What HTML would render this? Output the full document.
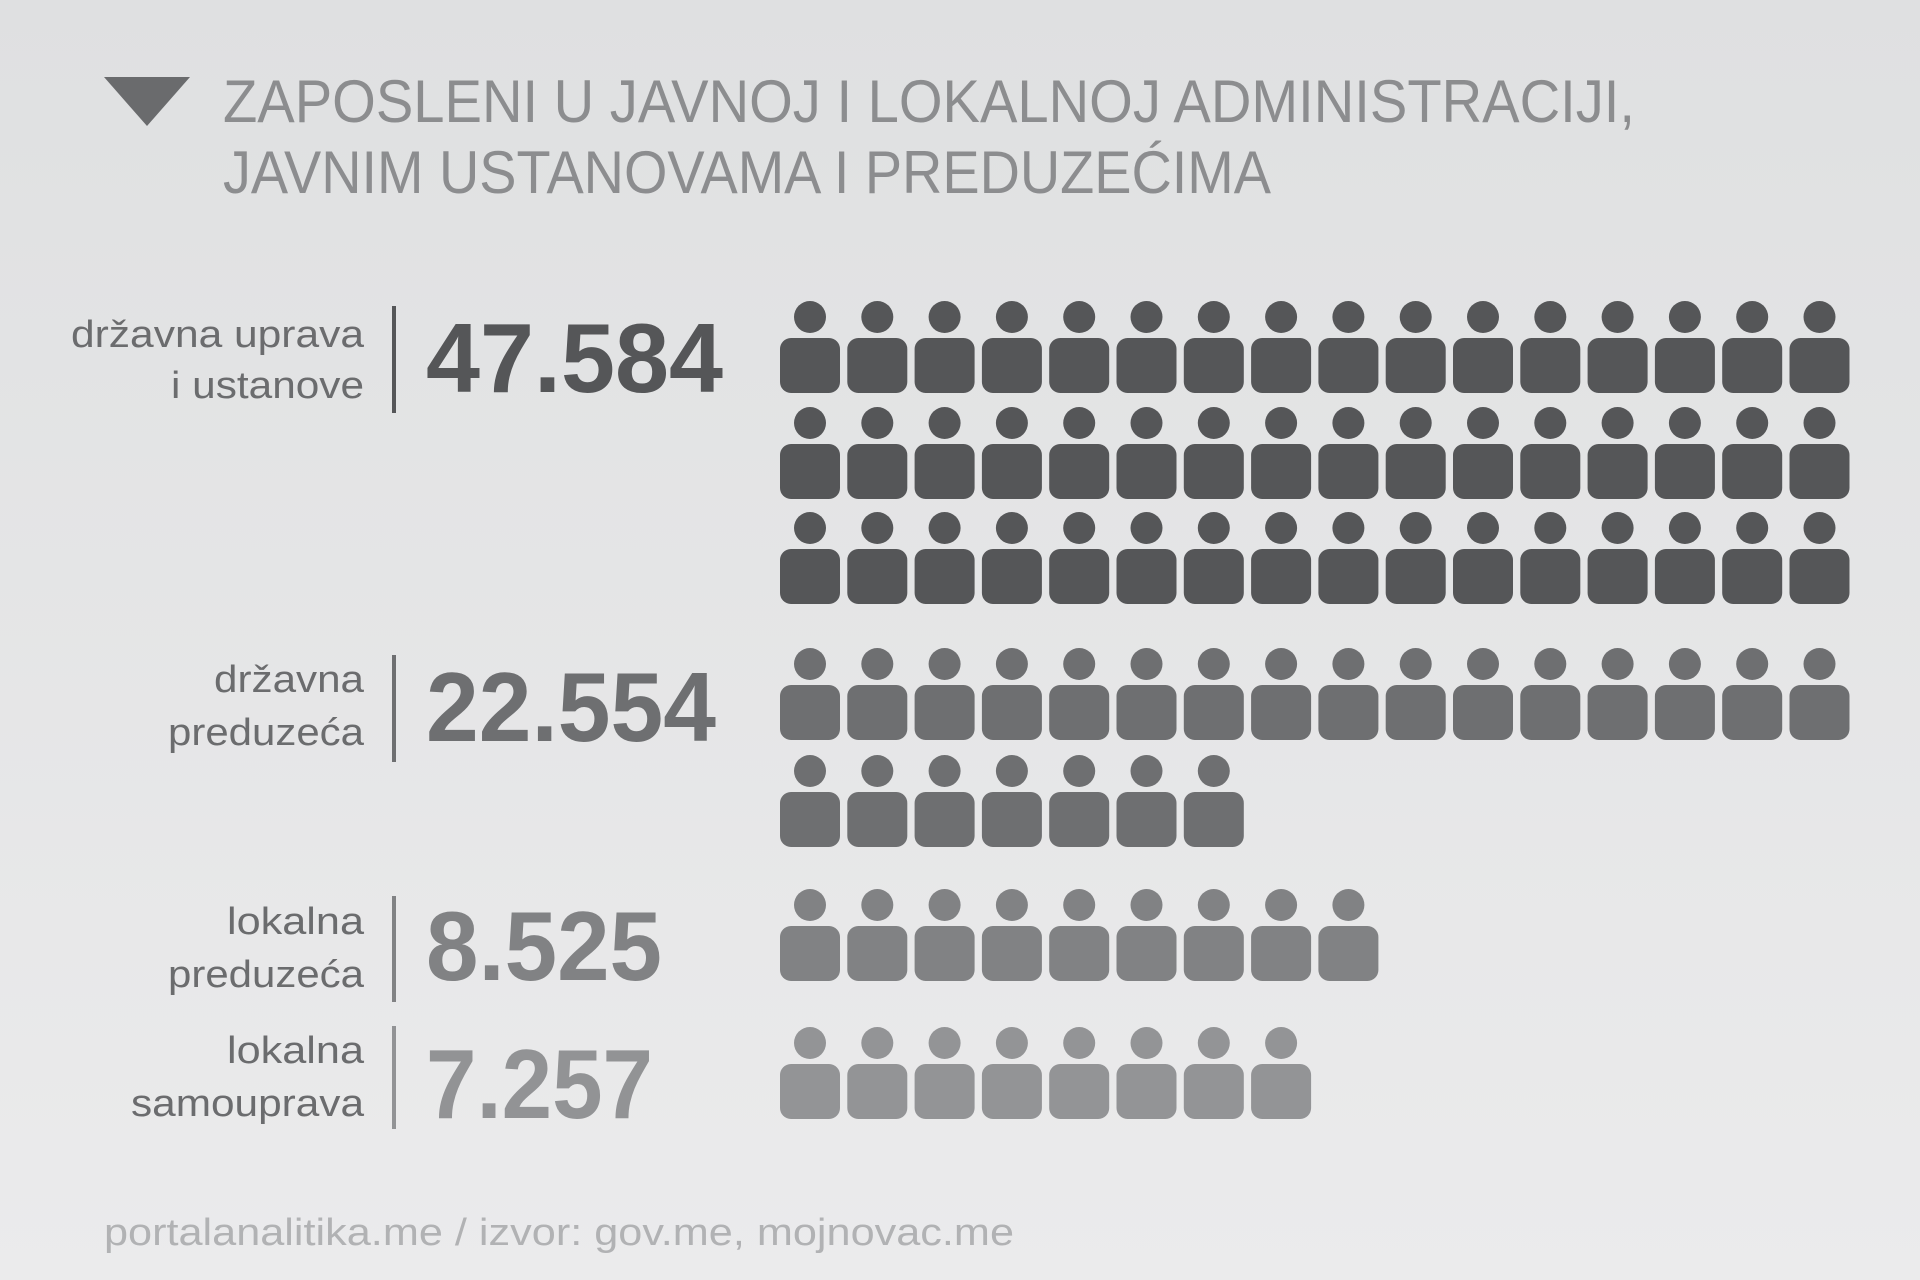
<!DOCTYPE html>
<html><head><meta charset="utf-8"><style>
html,body{margin:0;padding:0;}
body{width:1920px;height:1280px;overflow:hidden;}
svg{display:block;}
text{font-family:"Liberation Sans",sans-serif;}
</style></head><body>
<svg width="1920" height="1280" viewBox="0 0 1920 1280" xmlns="http://www.w3.org/2000/svg">
<defs>
<linearGradient id="bg" x1="0" y1="0" x2="0" y2="1">
<stop offset="0" stop-color="#dfe0e1"/><stop offset="1" stop-color="#ebebec"/>
</linearGradient>
<g id="p"><circle cx="30" cy="0" r="16"/><rect x="0" y="21" width="60" height="55" rx="11"/></g>
</defs>
<rect width="1920" height="1280" fill="url(#bg)"/>
<polygon points="104,77 190,77 147,126" fill="#6a6b6d"/>
<g fill="#8c8d8f" font-size="60">
<text x="223" y="122" textLength="1412" lengthAdjust="spacingAndGlyphs">ZAPOSLENI U JAVNOJ I LOKALNOJ ADMINISTRACIJI,</text>
<text x="223" y="193" textLength="1048" lengthAdjust="spacingAndGlyphs">JAVNIM USTANOVAMA I PREDUZEĆIMA</text>
</g>
<g fill="#6b6c6e" font-size="38" text-anchor="end">
<text x="364" y="347" textLength="293" lengthAdjust="spacingAndGlyphs">državna uprava</text>
<text x="364" y="398" textLength="193" lengthAdjust="spacingAndGlyphs">i ustanove</text>
<text x="364" y="692" textLength="150" lengthAdjust="spacingAndGlyphs">državna</text>
<text x="364" y="745" textLength="196" lengthAdjust="spacingAndGlyphs">preduzeća</text>
<text x="364" y="934" textLength="137" lengthAdjust="spacingAndGlyphs">lokalna</text>
<text x="364" y="987" textLength="196" lengthAdjust="spacingAndGlyphs">preduzeća</text>
<text x="364" y="1063" textLength="137" lengthAdjust="spacingAndGlyphs">lokalna</text>
<text x="364" y="1116" textLength="233" lengthAdjust="spacingAndGlyphs">samouprava</text>
</g>
<rect x="392" y="306" width="4" height="107" fill="#555658"/>
<rect x="392" y="655" width="4" height="107" fill="#6e6f71"/>
<rect x="392" y="896" width="4" height="106" fill="#818284"/>
<rect x="392" y="1026" width="4" height="103" fill="#929395"/>
<g font-size="98" font-weight="bold">
<text x="426" y="392" fill="#555658" textLength="297" lengthAdjust="spacingAndGlyphs">47.584</text>
<text x="426" y="741" fill="#6e6f71" textLength="290" lengthAdjust="spacingAndGlyphs">22.554</text>
<text x="426" y="980" fill="#818284" textLength="236" lengthAdjust="spacingAndGlyphs">8.525</text>
<text x="426" y="1118" fill="#929395" textLength="227" lengthAdjust="spacingAndGlyphs">7.257</text>
</g>
<g fill="#555658">
<g transform="translate(780,317)"><use href="#p"/><use href="#p" x="67.3"/><use href="#p" x="134.6"/><use href="#p" x="201.9"/><use href="#p" x="269.2"/><use href="#p" x="336.5"/><use href="#p" x="403.8"/><use href="#p" x="471.1"/><use href="#p" x="538.4"/><use href="#p" x="605.7"/><use href="#p" x="673"/><use href="#p" x="740.3"/><use href="#p" x="807.6"/><use href="#p" x="874.9"/><use href="#p" x="942.2"/><use href="#p" x="1009.5"/></g>
<g transform="translate(780,423)"><use href="#p"/><use href="#p" x="67.3"/><use href="#p" x="134.6"/><use href="#p" x="201.9"/><use href="#p" x="269.2"/><use href="#p" x="336.5"/><use href="#p" x="403.8"/><use href="#p" x="471.1"/><use href="#p" x="538.4"/><use href="#p" x="605.7"/><use href="#p" x="673"/><use href="#p" x="740.3"/><use href="#p" x="807.6"/><use href="#p" x="874.9"/><use href="#p" x="942.2"/><use href="#p" x="1009.5"/></g>
<g transform="translate(780,528)"><use href="#p"/><use href="#p" x="67.3"/><use href="#p" x="134.6"/><use href="#p" x="201.9"/><use href="#p" x="269.2"/><use href="#p" x="336.5"/><use href="#p" x="403.8"/><use href="#p" x="471.1"/><use href="#p" x="538.4"/><use href="#p" x="605.7"/><use href="#p" x="673"/><use href="#p" x="740.3"/><use href="#p" x="807.6"/><use href="#p" x="874.9"/><use href="#p" x="942.2"/><use href="#p" x="1009.5"/></g>
</g>
<g fill="#6e6f71">
<g transform="translate(780,664)"><use href="#p"/><use href="#p" x="67.3"/><use href="#p" x="134.6"/><use href="#p" x="201.9"/><use href="#p" x="269.2"/><use href="#p" x="336.5"/><use href="#p" x="403.8"/><use href="#p" x="471.1"/><use href="#p" x="538.4"/><use href="#p" x="605.7"/><use href="#p" x="673"/><use href="#p" x="740.3"/><use href="#p" x="807.6"/><use href="#p" x="874.9"/><use href="#p" x="942.2"/><use href="#p" x="1009.5"/></g>
<g transform="translate(780,771)"><use href="#p"/><use href="#p" x="67.3"/><use href="#p" x="134.6"/><use href="#p" x="201.9"/><use href="#p" x="269.2"/><use href="#p" x="336.5"/><use href="#p" x="403.8"/></g>
</g>
<g fill="#818284" transform="translate(780,905)"><use href="#p"/><use href="#p" x="67.3"/><use href="#p" x="134.6"/><use href="#p" x="201.9"/><use href="#p" x="269.2"/><use href="#p" x="336.5"/><use href="#p" x="403.8"/><use href="#p" x="471.1"/><use href="#p" x="538.4"/></g>
<g fill="#939496" transform="translate(780,1043)"><use href="#p"/><use href="#p" x="67.3"/><use href="#p" x="134.6"/><use href="#p" x="201.9"/><use href="#p" x="269.2"/><use href="#p" x="336.5"/><use href="#p" x="403.8"/><use href="#p" x="471.1"/></g>
<text x="104" y="1245" fill="#b1b2b4" font-size="38" textLength="910" lengthAdjust="spacingAndGlyphs">portalanalitika.me / izvor: gov.me, mojnovac.me</text>
</svg>
</body></html>
